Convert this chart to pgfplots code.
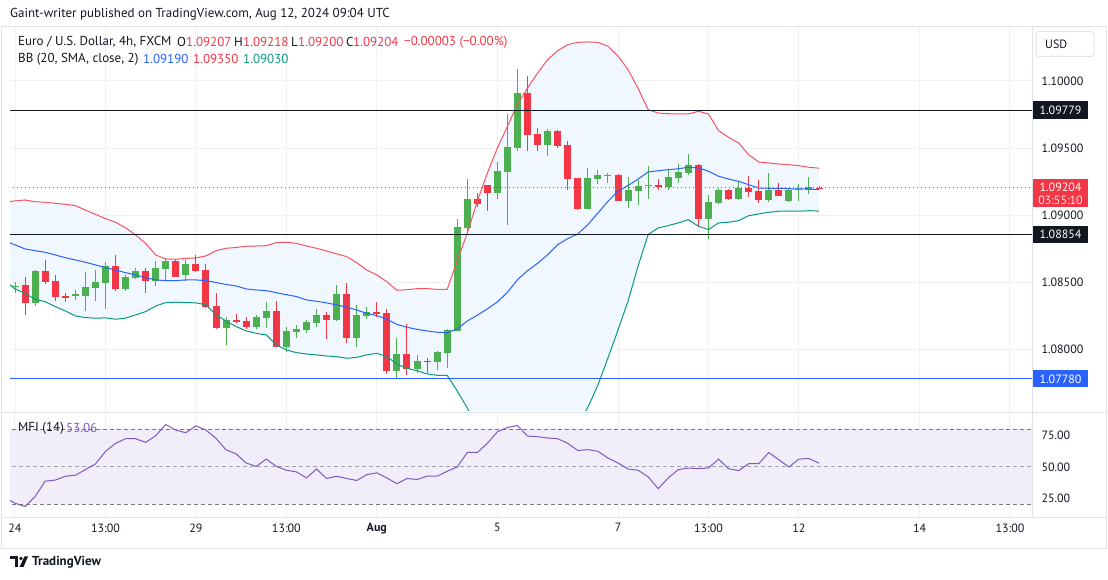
\documentclass[border=0pt]{standalone}
\usepackage{fontspec}
\setmainfont{PT Sans}
\usepackage{pgfplots}
\usepackage{pgfplotstable}
\pgfplotsset{compat=1.18}
\usepgfplotslibrary{fillbetween}

\definecolor{tvgreen}{HTML}{4CAF50}
\definecolor{tvred}{HTML}{F23645}
\definecolor{tvblue}{HTML}{2962FF}
\definecolor{tvteal}{HTML}{089981}
\definecolor{tvdark}{HTML}{131722}
\definecolor{bbfill}{HTML}{F1F7FE}
\definecolor{mfifill}{HTML}{F2EEF9}
\definecolor{mfiline}{HTML}{7E57C2}
\definecolor{gridc}{HTML}{EEF0F4}
\definecolor{borderc}{HTML}{E0E3EB}
\definecolor{dashc}{HTML}{787B86}

% EURUSD 4h candles: index, open, high, low, close
\pgfplotstableread{
i o h l c
0 1.08470 1.08504 1.08422 1.08475
2 1.08348 1.08592 1.08326 1.08584
6 1.08405 1.08443 1.08368 1.08410
7 1.08400 1.08577 1.08288 1.08465
8 1.08460 1.08592 1.08360 1.08502
9 1.08497 1.08651 1.08301 1.08621
11 1.08450 1.08554 1.08437 1.08539
12 1.08534 1.08606 1.08524 1.08584
14 1.08510 1.08659 1.08475 1.08606
15 1.08599 1.08681 1.08517 1.08659
17 1.08556 1.08666 1.08512 1.08636
21 1.08162 1.08244 1.08034 1.08221
24 1.08169 1.08256 1.08154 1.08241
25 1.08236 1.08353 1.08162 1.08286
27 1.08020 1.08167 1.07982 1.08137
28 1.08132 1.08181 1.08087 1.08154
29 1.08144 1.08219 1.08124 1.08204
30 1.08199 1.08301 1.08169 1.08256
32 1.08219 1.08480 1.08212 1.08413
34 1.08087 1.08331 1.08020 1.08256
35 1.08251 1.08318 1.08224 1.08278
38 1.07841 1.08084 1.07776 1.07965
40 1.07856 1.07957 1.07826 1.07913
42 1.07907 1.07989 1.07848 1.07980
43 1.07975 1.08154 1.07863 1.08144
44 1.08139 1.08971 1.08137 1.08914
45 1.08907 1.09270 1.08865 1.09120
48 1.09168 1.09396 1.09122 1.09329
49 1.09324 1.09754 1.08929 1.09508
50 1.09503 1.10089 1.09480 1.09911
53 1.09525 1.09640 1.09443 1.09630
57 1.09046 1.09351 1.09044 1.09277
58 1.09272 1.09337 1.09236 1.09299
59 1.09299 1.09319 1.09238 1.09304
61 1.09108 1.09287 1.09056 1.09188
62 1.09180 1.09267 1.09076 1.09217
63 1.09221 1.09366 1.09121 1.09225
65 1.09212 1.09344 1.09186 1.09282
66 1.09279 1.09381 1.09242 1.09322
67 1.09316 1.09456 1.09301 1.09374
69 1.08974 1.09150 1.08820 1.09098
70 1.09091 1.09203 1.09086 1.09188
72 1.09121 1.09247 1.09118 1.09202
75 1.09113 1.09314 1.09098 1.09188
77 1.09106 1.09195 1.09101 1.09188
78 1.09193 1.09232 1.09106 1.09195
79 1.09192 1.09284 1.09158 1.09210
}\greenc

\pgfplotstableread{
i o h l c
1 1.08480 1.08537 1.08259 1.08348
3 1.08584 1.08666 1.08485 1.08504
4 1.08510 1.08554 1.08360 1.08393
5 1.08396 1.08418 1.08355 1.08390
10 1.08621 1.08703 1.08437 1.08450
13 1.08584 1.08606 1.08422 1.08510
16 1.08659 1.08668 1.08538 1.08541
18 1.08636 1.08703 1.08579 1.08584
19 1.08592 1.08636 1.08306 1.08318
20 1.08323 1.08420 1.08154 1.08162
22 1.08219 1.08263 1.08199 1.08206
23 1.08211 1.08241 1.08154 1.08169
26 1.08286 1.08360 1.08017 1.08020
31 1.08256 1.08281 1.08075 1.08219
33 1.08413 1.08495 1.08049 1.08087
36 1.08278 1.08353 1.08244 1.08266
37 1.08271 1.08301 1.07818 1.07841
39 1.07965 1.08189 1.07811 1.07856
41 1.07913 1.07937 1.07826 1.07909
46 1.09120 1.09165 1.09063 1.09086
47 1.09225 1.09228 1.09033 1.09168
51 1.09911 1.10037 1.09480 1.09600
52 1.09605 1.09650 1.09480 1.09525
54 1.09630 1.09635 1.09503 1.09518
55 1.09523 1.09555 1.09190 1.09272
56 1.09277 1.09280 1.09039 1.09046
60 1.09299 1.09307 1.09105 1.09108
64 1.09225 1.09270 1.09188 1.09212
68 1.09374 1.09381 1.08914 1.08974
71 1.09188 1.09198 1.09113 1.09121
73 1.09202 1.09292 1.09133 1.09173
74 1.09180 1.09262 1.09093 1.09113
76 1.09188 1.09240 1.09143 1.09145
80 1.09207 1.09218 1.09200 1.09204
}\redc

% Bollinger bands (20, 2): upper, basis, lower
\pgfplotstableread{
i u m l
-1 1.09098 1.08808 1.08510
0 1.09106 1.08778 1.08450
1 1.09113 1.08748 1.08417
2 1.09100 1.08735 1.08373
3 1.09096 1.08723 1.08355
4 1.09088 1.08703 1.08318
5 1.09081 1.08683 1.08286
6 1.09071 1.08666 1.08249
7 1.09038 1.08649 1.08236
8 1.09006 1.08629 1.08232
9 1.08974 1.08609 1.08234
10 1.08947 1.08591 1.08224
11 1.08906 1.08571 1.08232
12 1.08852 1.08554 1.08256
13 1.08790 1.08534 1.08281
14 1.08703 1.08517 1.08323
15 1.08673 1.08512 1.08348
16 1.08671 1.08512 1.08351
17 1.08678 1.08517 1.08348
18 1.08681 1.08517 1.08346
19 1.08696 1.08512 1.08331
20 1.08735 1.08498 1.08256
21 1.08753 1.08483 1.08211
22 1.08759 1.08472 1.08169
23 1.08768 1.08450 1.08137
24 1.08770 1.08442 1.08119
25 1.08772 1.08437 1.08107
26 1.08795 1.08422 1.08032
27 1.08798 1.08407 1.07995
28 1.08790 1.08393 1.07975
29 1.08770 1.08368 1.07965
30 1.08753 1.08358 1.07958
31 1.08733 1.08346 1.07950
32 1.08711 1.08331 1.07945
33 1.08691 1.08314 1.07933
34 1.08646 1.08293 1.07940
35 1.08591 1.08268 1.07958
36 1.08554 1.08251 1.07970
37 1.08504 1.08224 1.07945
38 1.08440 1.08186 1.07890
39 1.08444 1.08164 1.07858
40 1.08452 1.08149 1.07840
41 1.08452 1.08137 1.07816
42 1.08447 1.08127 1.07806
43 1.08447 1.08124 1.07806
44 1.08659 1.08151 1.07689
45 1.08867 1.08211 1.07563
46 1.09103 1.08254 1.07404
47 1.09314 1.08301 1.07287
48 1.09501 1.08353 1.07205
49 1.09662 1.08425 1.07188
50 1.09829 1.08519 1.07209
51 1.09948 1.08586 1.07224
52 1.10060 1.08641 1.07223
53 1.10159 1.08705 1.07252
54 1.10226 1.08780 1.07334
55 1.10271 1.08825 1.07378
56 1.10288 1.08860 1.07431
57 1.10291 1.08929 1.07567
58 1.10288 1.09016 1.07734
59 1.10259 1.09103 1.07935
60 1.10186 1.09178 1.08144
61 1.10084 1.09221 1.08360
62 1.09944 1.09269 1.08621
63 1.09786 1.09322 1.08856
64 1.09761 1.09331 1.08904
65 1.09756 1.09339 1.08922
66 1.09754 1.09346 1.08942
67 1.09754 1.09357 1.08966
68 1.09774 1.09352 1.08917
69 1.09754 1.09327 1.08892
70 1.09630 1.09290 1.08942
71 1.09580 1.09269 1.08947
72 1.09538 1.09252 1.08959
73 1.09451 1.09227 1.08996
74 1.09396 1.09202 1.09009
75 1.09389 1.09200 1.09021
76 1.09381 1.09200 1.09029
77 1.09376 1.09197 1.09029
78 1.09369 1.09195 1.09029
79 1.09357 1.09195 1.09033
80 1.09350 1.09190 1.09030
}\bands

% MFI (14)
\pgfplotstableread{
i m
-1 25.5
0 21.0
1 18.4
2 26.3
3 38.7
4 39.5
5 42.6
6 43.4
7 47.9
8 52.4
9 62.4
10 68.9
11 72.6
12 72.6
13 69.7
14 75.0
15 84.0
16 79.5
17 77.4
18 82.9
19 79.5
20 72.9
21 63.7
22 60.5
23 53.2
24 50.5
25 56.3
26 50.5
27 47.4
28 46.1
29 41.3
30 48.4
31 40.8
32 42.6
33 40.8
34 39.2
35 43.9
36 45.3
37 41.3
38 36.6
39 40.8
40 40.0
41 42.6
42 42.6
43 46.6
44 50.0
45 61.6
46 61.6
47 68.9
48 78.2
49 81.6
50 83.2
51 74.7
52 74.2
53 73.2
54 72.6
55 68.9
56 63.2
57 63.9
58 62.6
59 57.1
60 53.2
61 48.4
62 47.4
63 42.1
64 32.6
65 41.3
66 47.9
67 49.2
68 48.7
69 49.2
70 56.3
71 48.7
72 47.1
73 52.6
74 52.6
75 61.6
76 55.8
77 50.0
78 56.3
79 56.8
80 53.06
}\mfi

\pgfplotsset{
  tvpane/.style={
    scale only axis, anchor=south west, width=1022pt,
    xmin=-0.4975, xmax=101.19,
    axis line style={draw=none}, major tick length=0pt,
    xtick={0,9,18,27,36,48,60,69,78,90,99},
    yticklabel pos=right, scaled y ticks=false,
    /pgf/number format/assume math mode=true,
    ticklabel style={font=\fontsize{12}{14}\selectfont, text=tvdark},
    yticklabel style={anchor=west, xshift=6pt},
    grid=major, major grid style={draw=gridc, line width=1pt},
  },
  wick/.style={draw=none, mark=none, forget plot,
    error bars/.cd, y dir=both, y explicit, error mark=none,
    error bar style={draw=#1, line width=1pt, solid}},
  body/.style={draw=none, mark=none, forget plot,
    error bars/.cd, y dir=both, y explicit, error mark=none,
    error bar style={draw=#1, line width=7pt, solid}},
}

\begin{document}
\begin{tikzpicture}[x=1pt,y=1pt]
\path (0,0) rectangle (1108,580);
\draw[borderc] (1.5,32) rectangle (1106.5,554);
\draw[borderc] (1032,63) -- (1032,554);
\draw[borderc] (1.5,168) -- (1106.5,168);
\draw[borderc] (1.5,63) -- (1106.5,63);

\begin{axis}[tvpane, at={(10pt,169pt)}, height=383pt,
  ymin=1.0754, ymax=1.10395,
  xticklabels={},
  ytick={1.08,1.085,1.09,1.095,1.1},
  yticklabel style={/pgf/number format/.cd, fixed, zerofill, precision=5},
]
\addplot[draw=none, name path=bbu, forget plot] table[x=i,y=u]{\bands};
\addplot[draw=none, name path=bbl, forget plot] table[x=i,y=l]{\bands};
\addplot[fill=bbfill, draw=none, forget plot] fill between[of=bbu and bbl];

\addplot[wick=tvgreen] table[x=i, y expr={(\thisrow{h}+\thisrow{l})/2},
  y error expr={(\thisrow{h}-\thisrow{l})/2}]{\greenc};
\addplot[body=tvgreen] table[x=i, y expr={(\thisrow{o}+\thisrow{c})/2},
  y error expr={max(abs(\thisrow{c}-\thisrow{o})/2,0.000006)}]{\greenc};
\addplot[wick=tvred] table[x=i, y expr={(\thisrow{h}+\thisrow{l})/2},
  y error expr={(\thisrow{h}-\thisrow{l})/2}]{\redc};
\addplot[body=tvred] table[x=i, y expr={(\thisrow{o}+\thisrow{c})/2},
  y error expr={max(abs(\thisrow{c}-\thisrow{o})/2,0.000006)}]{\redc};

\addplot[tvred!85, line width=1pt] table[x=i,y=u]{\bands};
\addplot[tvblue, line width=1pt] table[x=i,y=m]{\bands};
\addplot[tvteal, line width=1pt] table[x=i,y=l]{\bands};

% drawn levels and last price
\addplot[tvdark, line width=1.3pt] coordinates {(-1,1.09779) (102,1.09779)};
\addplot[tvdark, line width=1.3pt] coordinates {(-1,1.08854) (102,1.08854)};
\addplot[tvblue, line width=1.3pt] coordinates {(-1,1.07780) (102,1.07780)};
\addplot[tvred, line width=1pt, dash pattern=on 1.5pt off 2.5pt] coordinates {(-1,1.09204) (102,1.09204)};
\end{axis}

\begin{axis}[tvpane, at={(10pt,63pt)}, height=104pt,
  ymin=10, ymax=93.2,
  ytick={25,50,75},
  yticklabel style={/pgf/number format/.cd, fixed, zerofill, precision=2},
  xticklabels={24,13:00,29,13:00,\textbf{Aug},5,7,13:00,12,14,13:00},
  xticklabel style={yshift=-3pt},
]
\addplot[fill=mfifill, draw=none] coordinates {(-1,20) (102,20) (102,80) (-1,80)} -- cycle;
\addplot[dashc, line width=1pt, dash pattern=on 4pt off 3pt] coordinates {(-1,80) (102,80)};
\addplot[dashc!70, line width=1pt, dash pattern=on 4pt off 3pt] coordinates {(-1,50) (102,50)};
\addplot[dashc, line width=1pt, dash pattern=on 4pt off 3pt] coordinates {(-1,20) (102,20)};
\addplot[mfiline, line width=1pt] table[x=i,y=m]{\mfi};
\end{axis}

% header texts
\begin{scope}[every node/.style={inner sep=0pt, anchor=west, font=\fontsize{13}{15}\selectfont, text=tvdark}]
\node at (10,566) {Gaint-writer published on TradingView.com, Aug 12, 2024 09:04 UTC};
\node at (18,538) {Euro / U.S. Dollar, 4h, FXCM};
\node at (177,538) {O}; \node[text=tvred] at (186,538) {1.09207};
\node at (234,538) {H}; \node[text=tvred] at (243,538) {1.09218};
\node at (291,538) {L}; \node[text=tvred] at (298,538) {1.09200};
\node at (346,538) {C}; \node[text=tvred] at (353,538) {1.09204};
\node[text=tvred] at (404,538) {−0.00003 (−0.00\%)};
\node at (18,521) {BB (20, SMA, close, 2)};
\node[text=tvblue] at (143,521) {1.09190};
\node[text=tvred] at (193,521) {1.09350};
\node[text=tvteal] at (243,521) {1.09030};
\node at (18,152) {MFI (14)};
\node[text=mfiline] at (66,152) {53.06};
\end{scope}

% USD button
\draw[borderc, rounded corners=3pt, line width=1pt] (1036,523.5) rectangle (1094,548.5);
\node[anchor=west, inner sep=0pt, font=\fontsize{12}{14}\selectfont, text=tvdark] at (1045,536) {USD};

% price scale labels
\begin{scope}[every node/.style={inner sep=0pt, font=\fontsize{12}{14}\selectfont, text=white}]
\fill[tvdark] (1033,460.5) rectangle (1088,478.5);
\node at (1060.5,469.5) {1.09779};
\fill[tvred] (1033,373) rectangle (1088,401);
\node at (1060.5,392.5) {1.09204};
\node[text=white!85!tvred] at (1060.5,379.5) {03:55:10};
\fill[tvdark] (1033,337) rectangle (1088,354);
\node at (1060.5,345.5) {1.08854};
\fill[tvblue] (1033,192.5) rectangle (1088,209.5);
\node at (1060.5,201) {1.07780};
\end{scope}

% TradingView logo
\fill[tvdark] (10,20.5) rectangle (18,23.5);
\fill[tvdark] (14.5,13) rectangle (18,23.5);
\fill[tvdark] (21,21.5) circle (1.8);
\fill[tvdark] (19.5,13) -- (23.5,13) -- (28,23.5) -- (24.5,23.5) -- cycle;
\node[anchor=west, inner sep=0pt, font=\fontsize{13}{15}\selectfont\bfseries, text=tvdark] at (32,18) {TradingView};
\end{tikzpicture}
\end{document}
